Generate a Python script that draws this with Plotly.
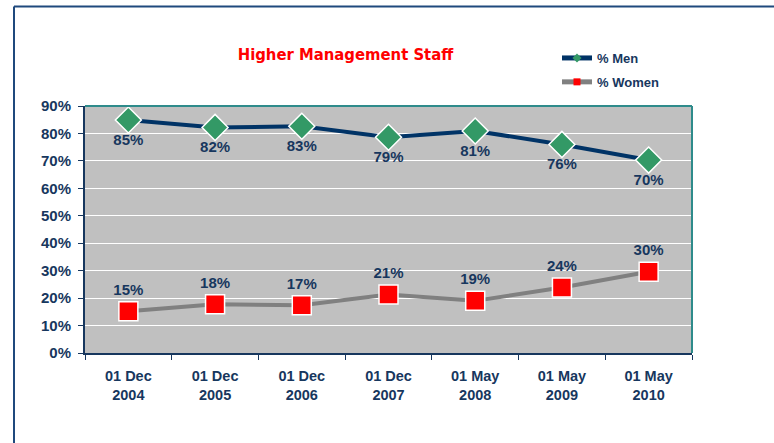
import plotly.graph_objects as go

categories = ["01 Dec<br>2004", "01 Dec<br>2005", "01 Dec<br>2006", "01 Dec<br>2007",
              "01 May<br>2008", "01 May<br>2009", "01 May<br>2010"]
men = [84.9, 82.2, 82.6, 78.6, 80.9, 76.0, 70.3]
men_labels = ["85%", "82%", "83%", "79%", "81%", "76%", "70%"]
women = [15.2, 17.8, 17.4, 21.3, 19.0, 23.9, 29.6]
women_labels = ["15%", "18%", "17%", "21%", "19%", "24%", "30%"]
y_ticks = [0, 10, 20, 30, 40, 50, 60, 70, 80, 90]
y_tick_labels = [f"{v}%" for v in y_ticks]

navy = "#17375E"
font_family = "Liberation Sans, Arial, sans-serif"
men_line = "#003366"
women_line = "#808080"

fig = go.Figure()
fig.add_trace(go.Scatter(
    x=categories, y=men, name="% Men", mode="lines+markers+text", showlegend=False,
    line=dict(color=men_line, width=4),
    marker=dict(symbol="diamond", size=20, color="#339966", line=dict(color="white", width=1.5)),
    text=men_labels, textposition="bottom center",
    textfont=dict(color=navy, size=15, family=font_family, weight="bold"),
    cliponaxis=False,
))
fig.add_trace(go.Scatter(
    x=categories, y=women, name="% Women", mode="lines+markers+text", showlegend=False,
    line=dict(color=women_line, width=4),
    marker=dict(symbol="square", size=19, color="#FF0000", line=dict(color="white", width=1.5)),
    text=women_labels, textposition="top center",
    textfont=dict(color=navy, size=15, family=font_family, weight="bold"),
    cliponaxis=False,
))
# legend entries (small markers as in the reference legend)
fig.add_trace(go.Scatter(x=[None], y=[None], name="% Men", mode="lines+markers",
                         legendgroup="m", line=dict(color=men_line, width=5),
                         marker=dict(symbol="diamond", size=7, color="#339966")))
fig.add_trace(go.Scatter(x=[None], y=[None], name="% Women", mode="lines+markers",
                         legendgroup="w", line=dict(color=women_line, width=5),
                         marker=dict(symbol="square", size=7, color="#FF0000")))

L, R, T, B = 85, 692, 106, 353
W, H = 774, 443
pw, ph = R - L, B - T

def px(x):
    return (x - L) / pw

def py(y):
    return (B - y) / ph

fig.update_layout(
    width=W, height=H,
    margin=dict(l=L, r=W - R, t=T, b=H - B, pad=0),
    paper_bgcolor="white", plot_bgcolor="#C0C0C0",
    font=dict(family=font_family, color=navy),
    title=dict(text="<b>Higher Management Staff</b>", xref="container", x=345.5 / W,
               xanchor="center", yref="container", y=1 - 54 / H, yanchor="middle",
               font=dict(color="#FF0000", size=16.5, family="DejaVu Sans Condensed, DejaVu Sans")),
    showlegend=True,
    legend=dict(x=px(557), y=py(43), xanchor="left", yanchor="top",
                bgcolor="rgba(0,0,0,0)", font=dict(size=13, color=navy, weight="bold"),
                itemwidth=30, tracegroupgap=4),
    xaxis=dict(type="category", showgrid=False, tickson="boundaries", ticks="outside",
               ticklen=5, tickcolor=navy, showline=True, linecolor=navy, linewidth=2,
               tickfont=dict(size=14.5, color=navy, weight="bold"), zeroline=False,
               ticklabelstandoff=9, range=[-0.5, 6.5]),
    yaxis=dict(range=[0, 90], tickvals=y_ticks, ticktext=y_tick_labels, showgrid=True,
               gridcolor="white", gridwidth=1, ticks="outside", ticklen=5, tickcolor=navy,
               showline=True, linecolor=navy, linewidth=2, zeroline=False,
               ticklabelstandoff=4,
               tickfont=dict(size=15, color=navy, weight="bold")),
    shapes=[
        dict(type="line", xref="paper", yref="paper", x0=0, x1=1, y0=1, y1=1,
             line=dict(color="#2E8B8B", width=2)),
        dict(type="line", xref="paper", yref="paper", x0=1, x1=1, y0=0, y1=1,
             line=dict(color="#2E8B8B", width=2)),
        dict(type="line", xref="paper", yref="paper", x0=px(14), x1=px(W + 10), y0=py(6.5), y1=py(6.5),
             line=dict(color="#1F497D", width=2)),
        dict(type="line", xref="paper", yref="paper", x0=px(14), x1=px(14), y0=py(6.5), y1=py(H + 10),
             line=dict(color="#1F497D", width=2)),
    ],
)

fig.write_html("out.html", config={"displayModeBar": False},
               post_script="document.body.style.margin='0';")
